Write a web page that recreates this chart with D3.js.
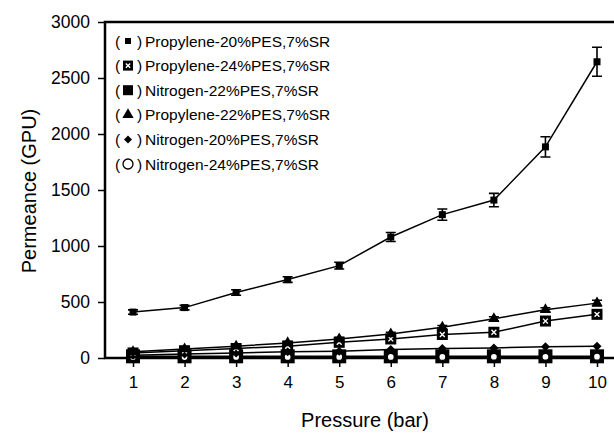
<!DOCTYPE html>
<html><head><meta charset="utf-8">
<script src="https://cdn.jsdelivr.net/npm/d3@7"></script>
<style>body{margin:0;background:#fff}svg{display:block}text{font-family:"Liberation Sans",Arial,sans-serif;fill:#000}</style>
</head><body><svg id="c" width="614" height="434"></svg>
<script>
const pressure = [1,2,3,4,5,6,7,8,9,10];
const yTicks = [0,500,1000,1500,2000,2500,3000];
const propylene20 = [410,450,585,700,825,1080,1280,1410,1885,2645];
const propylene20Err = [20,20,25,25,30,40,50,60,90,130];
const propylene24 = [45,65,85,105,140,170,210,230,330,390];
const propylene24Err = [10,10,10,12,12,15,15,15,18,20];
const nitrogen22 = [15,15,15,15,15,15,15,15,15,15];
const propylene22 = [55,80,105,135,170,215,275,350,430,490];
const propylene22Err = [10,10,12,15,15,15,15,18,18,25];
const nitrogen20 = [25,35,45,55,60,75,85,90,100,105];
const nitrogen24 = [8,8,9,9,10,10,10,11,11,12];
const seriesNames = ["Propylene-20%PES,7%SR","Propylene-24%PES,7%SR","Nitrogen-22%PES,7%SR","Propylene-22%PES,7%SR","Nitrogen-20%PES,7%SR","Nitrogen-24%PES,7%SR"];

const svg = d3.select("#c");
const L = 105, R = 614, T = 22, B = 358;
const x = d3.scaleLinear().domain([1,10]).range([133,597]);
const y = d3.scaleLinear().domain([0,3000]).range([B,T]);

const series = [
  {name:seriesNames[0], v:propylene20, e:propylene20Err, sym:"sq", size:7},
  {name:seriesNames[1], v:propylene24, e:propylene24Err, sym:"boxx", size:11},
  {name:seriesNames[2], v:nitrogen22, e:null, sym:"sq", size:14},
  {name:seriesNames[3], v:propylene22, e:propylene22Err, sym:"tri", size:10},
  {name:seriesNames[4], v:nitrogen20, e:null, sym:"dia", size:9},
  {name:seriesNames[5], v:nitrogen24, e:null, sym:"circ", size:7}
];

function drawSym(g, s, cx, cy, sz){
  if(s==="sq"){ g.append("rect").attr("x",cx-sz/2).attr("y",cy-sz/2).attr("width",sz).attr("height",sz).attr("fill","#000"); }
  else if(s==="boxx"){
    g.append("rect").attr("x",cx-sz/2).attr("y",cy-sz/2).attr("width",sz).attr("height",sz).attr("fill","#000");
    const d = sz*0.22;
    g.append("path").attr("d",`M${cx-d},${cy-d}L${cx+d},${cy+d}M${cx+d},${cy-d}L${cx-d},${cy+d}`).attr("stroke","#fff").attr("stroke-width",1.4);
  }
  else if(s==="tri"){ g.append("path").attr("d",d3.symbol(d3.symbolTriangle, sz*sz*0.55)()).attr("transform",`translate(${cx},${cy})`).attr("fill","#000"); }
  else if(s==="dia"){ g.append("path").attr("d",`M${cx},${cy-sz/2}L${cx+sz/2},${cy}L${cx},${cy+sz/2}L${cx-sz/2},${cy}Z`).attr("fill","#000"); }
  else if(s==="circ"){ g.append("circle").attr("cx",cx).attr("cy",cy).attr("r",sz/2).attr("fill","#fff").attr("stroke","#000").attr("stroke-width",1.3); }
}

// axes
const gx = svg.append("g").attr("transform",`translate(0,${B})`)
  .call(d3.axisBottom(x).tickValues(pressure).tickSize(9).tickPadding(9).tickFormat(d3.format("d")));
gx.select(".domain").remove();
gx.selectAll("line").attr("stroke-width",1.5);
gx.selectAll("text").style("font-size","17px");
const gy = svg.append("g").attr("transform",`translate(${L},0)`)
  .call(d3.axisLeft(y).tickValues(yTicks).tickSize(7).tickPadding(8).tickFormat(d3.format("d")));
gy.select(".domain").remove();
gy.selectAll("line").attr("stroke-width",1.5);
gy.selectAll("text").style("font-size","17.5px");
svg.append("path").attr("d",`M${R},${T}H${L}V${B}H${R}`).attr("fill","none").attr("stroke","#000").attr("stroke-width",2.5);

// lines
const line = d3.line().x((d,i)=>x(pressure[i])).y(d=>y(d));
const order = [2,5,4,1,3,0];
order.forEach(k=>{
  const s = series[k];
  svg.append("path").attr("d",line(s.v)).attr("fill","none").attr("stroke","#000").attr("stroke-width",1.5);
});
order.forEach(k=>{
  const s = series[k];
  const g = svg.append("g");
  s.v.forEach((v,i)=>{
    const cx = x(pressure[i]), cy = y(v);
    if(s.e){
      const y1 = y(v+s.e[i]), y2 = y(v-s.e[i]);
      g.append("path").attr("d",`M${cx},${y1}V${y2}M${cx-5},${y1}H${cx+5}M${cx-5},${y2}H${cx+5}`).attr("stroke","#000").attr("stroke-width",1.6).attr("fill","none");
    }
    drawSym(g, s.sym, cx, cy, s.size);
  });
});

// legend
const lg = svg.append("g");
series.forEach((s,i)=>{
  const cy = 41 + i*24.6;
  lg.append("text").attr("x",115).attr("y",cy+5.5).style("font-size","15.5px").text("(");
  lg.append("text").attr("x",137).attr("y",cy+5.5).style("font-size","15.5px").text(")");
  const lsz = {sq:(i===0?6:10), boxx:10, tri:10, dia:8, circ:10}[s.sym];
  drawSym(lg, s.sym, 128, cy, lsz);
  lg.append("text").attr("x",145).attr("y",cy+5.5).style("font-size","15.5px").text(s.name);
});

// titles
svg.append("text").attr("transform","translate(36,191) rotate(-90)").attr("text-anchor","middle").style("font-size","20px").text("Permeance (GPU)");
svg.append("text").attr("x",365).attr("y",427).attr("text-anchor","middle").style("font-size","20px").text("Pressure (bar)");
</script></body></html>
